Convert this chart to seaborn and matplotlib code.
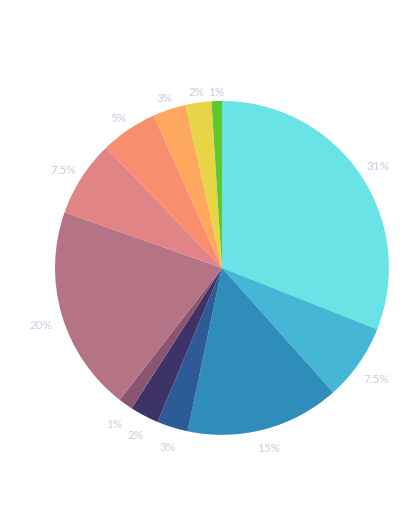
import matplotlib
matplotlib.use("Agg")
import numpy as np
import matplotlib.pyplot as plt
import seaborn as sns

sns.set_theme(style="white")
plt.rcParams['font.family'] = ['Lato', 'DejaVu Sans']

labels = ["31%", "7.5%", "15%", "3%", "2%", "1%", "20%", "7.5%", "5%", "3%", "2%", "1%"]
values = [31.0, 7.4, 14.9, 3.0, 2.8, 1.4, 19.9, 7.4, 5.5, 3.2, 2.5, 1.0]
colors = ["#69E3E6", "#45B6D6", "#2E8DBB", "#2D5B96", "#3D3366", "#8B5572",
          "#B57486", "#E08485", "#F98E6E", "#FDA85E", "#E8D447", "#5CC82F"]

fig = plt.figure(figsize=(4.2, 5.31), dpi=100)
ax = fig.add_axes([0.131, 0.181, 0.795, 0.629])
wedges, _ = ax.pie(values, colors=colors, startangle=90, counterclock=False,
                   wedgeprops={"linewidth": 0})

# labels sit just outside the rim, pushed out more where the text is wide
for w, lab in zip(wedges, labels):
    mid = np.deg2rad((w.theta1 + w.theta2) / 2)
    c, s = np.cos(mid), np.sin(mid)
    d = 1.045 + 0.078 * abs(c) + 0.03 * abs(s)
    ax.text(d * c, d * s - 0.026, lab, ha="center", va="center", color="#C6CEDE",
            fontsize=8.5, clip_on=False)

ax.set_xlim(-1, 1)
ax.set_ylim(-1, 1)
ax.set_aspect("equal")
fig.savefig("out.png", dpi=100)
